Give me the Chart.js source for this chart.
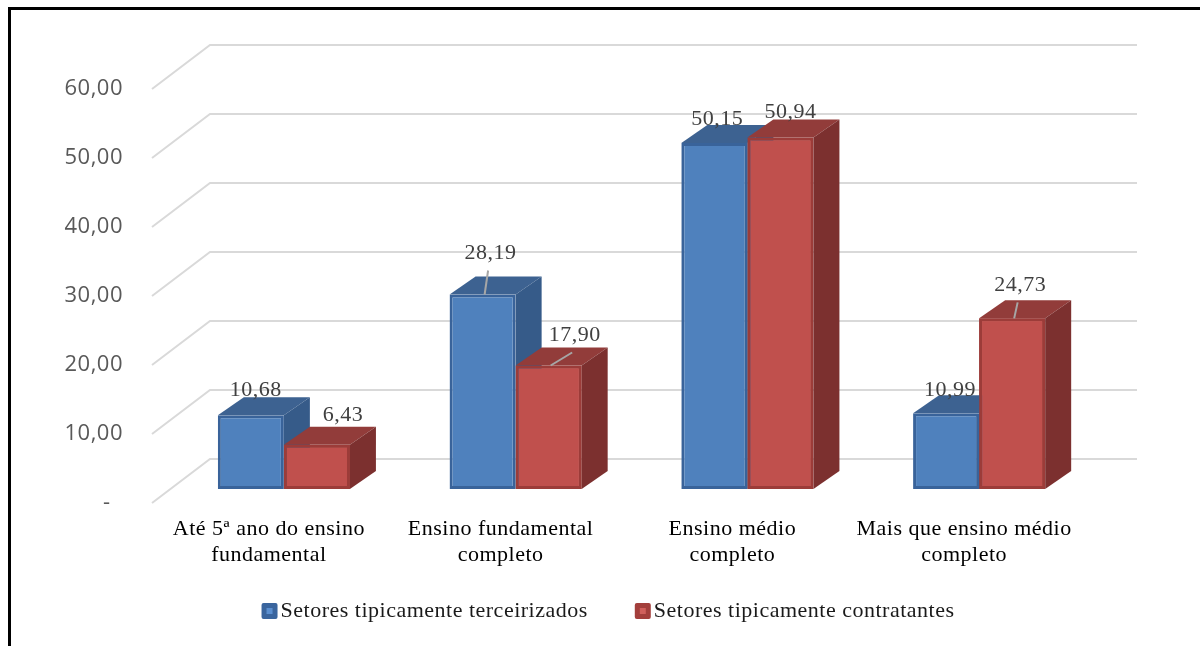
<!DOCTYPE html>
<html lang="pt">
<head>
<meta charset="utf-8">
<title>Escolaridade por tipo de setor</title>
<script src="https://cdn.jsdelivr.net/npm/chart.js@4.4.1/dist/chart.umd.min.js"></script>
<style>
  html, body { margin: 0; padding: 0; background: #ffffff; overflow: hidden; }
  #wrap { position: relative; width: 1200px; height: 646px; }
  #frame {
    position: absolute; left: 8px; top: 7px; width: 1200px; height: 700px;
    border-top: 3px solid #000; border-left: 3px solid #000; pointer-events: none;
  }
  canvas { position: absolute; left: 0; top: 0; }
</style>
</head>
<body>
<div id="wrap">
  <canvas id="chart" width="1200" height="646"></canvas>
  <div id="frame"></div>
</div>
<script>
// ---- data ----
const categories = [
  ['Até 5ª ano do ensino', 'fundamental'],
  ['Ensino fundamental', 'completo'],
  ['Ensino médio', 'completo'],
  ['Mais que ensino médio', 'completo']
];
const seriesNames = ['Setores tipicamente terceirizados', 'Setores tipicamente contratantes'];
const terceirizados = [10.68, 28.19, 50.15, 10.99];
const contratantes = [6.43, 17.90, 50.94, 24.73];
const yMin = 0, yMax = 60, yStep = 10;

// ---- label placement (offset from the top-centre of each bar front) ----
const labelShift = [
  [[5, -25], [8, -41], [3, -24], [4, -23]],
  [[26, -29], [26, -30], [10, -25], [8, -33]]
];
const leaderLine = [
  [false, true, false, false],
  [false, true, false, true]
];

// ---- styles ----
const SERIF = '"Liberation Serif", "Times New Roman", serif';
const SANS = '"Open Sans", "DejaVu Sans", sans-serif';
const faces = [
  { front: '#4f81bd', border: '#39639a', top: '#3d6291', side: '#365b89', legendDark: '#3a659e', legendLight: '#5b8fd0' },
  { front: '#c0504d', border: '#9c3c39', top: '#923c3a', side: '#7c302f', legendDark: '#a33f3c', legendLight: '#d0605c' }
];
const DEPTH = { dx: 26, dy: -18 };          // bar depth
const WALL = { dx: 42, dy: -30 };           // bar plane -> back wall
const FRONT = { dx: -16, dy: 14 };          // bar plane -> front edge of the floor/ticks

const fmt = v => v.toFixed(2).replace('.', ',');

const threeD = {
  id: 'threeD',
  beforeDraw(chart) {
    chart.ctx.letterSpacing = '0.5px';
  },
  beforeDatasetsDraw(chart) {
    const { ctx, chartArea, scales: { y } } = chart;
    const wallL = chartArea.left + WALL.dx;
    const wallR = chartArea.right + WALL.dx;
    ctx.save();
    ctx.strokeStyle = '#d9d9d9';
    ctx.lineWidth = 2;
    y.ticks.forEach(t => {
      const py = y.getPixelForValue(t.value);
      ctx.beginPath();
      ctx.moveTo(chartArea.left + FRONT.dx, py + FRONT.dy);
      ctx.lineTo(wallL, py + WALL.dy);
      ctx.lineTo(wallR, py + WALL.dy);
      ctx.stroke();
    });
    ctx.restore();
  },
  // Extrude the bars left to right: each series after the first repaints its
  // front faces so they cover the side faces of the series to its left.
  afterDatasetsDraw(chart) {
    const { ctx } = chart;
    ctx.save();
    chart.data.datasets.forEach((ds, di) => {
      const f = faces[di];
      const meta = chart.getDatasetMeta(di);
      meta.data.forEach(bar => {
        if (di > 0) bar.draw(ctx);
        const { x, y, base, width } = bar.getProps(['x', 'y', 'base', 'width'], true);
        const l = x - width / 2, r = x + width / 2;
        // top face
        ctx.fillStyle = f.top;
        ctx.beginPath();
        ctx.moveTo(l, y);
        ctx.lineTo(l + DEPTH.dx, y + DEPTH.dy);
        ctx.lineTo(r + DEPTH.dx, y + DEPTH.dy);
        ctx.lineTo(r, y);
        ctx.closePath();
        ctx.fill();
        // right side face
        ctx.fillStyle = f.side;
        ctx.beginPath();
        ctx.moveTo(r, y);
        ctx.lineTo(r + DEPTH.dx, y + DEPTH.dy);
        ctx.lineTo(r + DEPTH.dx, base + DEPTH.dy);
        ctx.lineTo(r, base);
        ctx.closePath();
        ctx.fill();
      });
    });
    ctx.restore();
  },
  afterDraw(chart) {
    const { ctx } = chart;
    ctx.save();
    ctx.letterSpacing = '0.5px';
    // value labels
    ctx.font = '22px ' + SERIF;
    ctx.textAlign = 'center';
    ctx.textBaseline = 'middle';
    chart.data.datasets.forEach((ds, di) => {
      chart.getDatasetMeta(di).data.forEach((bar, i) => {
        const { x, y } = bar.getProps(['x', 'y'], true);
        const [sx, sy] = labelShift[di][i];
        const lx = x + sx, ly = y + sy;
        if (leaderLine[di][i]) {
          ctx.strokeStyle = '#a6a6a6';
          ctx.lineWidth = 2;
          ctx.beginPath();
          ctx.moveTo(lx - 2.5, ly + 17);
          ctx.lineTo(x + 2, y);
          ctx.stroke();
        }
        ctx.fillStyle = '#404040';
        ctx.fillText(fmt(ds.data[i]), lx, ly);
      });
    });
    // legend
    ctx.font = '22px ' + SERIF;
    ctx.textAlign = 'left';
    ctx.textBaseline = 'alphabetic';
    const box = 16, gap = 3, spacing = 47, baseY = 617, centreX = 608;
    const widths = chart.data.datasets.map(ds => ctx.measureText(ds.label).width);
    const total = widths.reduce((a, w) => a + box + gap + w, 0) + spacing * (widths.length - 1);
    let cx = centreX - total / 2;
    chart.data.datasets.forEach((ds, di) => {
      const f = faces[di];
      const by = baseY - 14;
      ctx.fillStyle = f.legendDark;
      ctx.beginPath();
      ctx.roundRect(cx, by, box, box, 2);
      ctx.fill();
      ctx.fillStyle = f.legendLight;
      ctx.fillRect(cx + 5, by + 5, box - 10, box - 10);
      ctx.fillStyle = '#1a1a1a';
      ctx.fillText(ds.label, cx + box + gap, baseY);
      cx += box + gap + widths[di] + spacing;
    });
    ctx.restore();
  }
};

new Chart(document.getElementById('chart'), {
  type: 'bar',
  data: {
    labels: categories,
    datasets: [
      { label: seriesNames[0], data: terceirizados, backgroundColor: faces[0].front, borderColor: faces[0].border, borderWidth: 3, borderSkipped: false },
      { label: seriesNames[1], data: contratantes, backgroundColor: faces[1].front, borderColor: faces[1].border, borderWidth: 3, borderSkipped: false }
    ]
  },
  options: {
    responsive: false,
    animation: false,
    devicePixelRatio: 1,
    layout: { padding: { top: 75, right: 105, bottom: 0, left: 0 } },
    datasets: { bar: { barPercentage: 1, categoryPercentage: 0.57 } },
    plugins: {
      legend: { display: false },
      tooltip: { enabled: false }
    },
    scales: {
      x: {
        grid: { display: false, drawTicks: false },
        border: { display: false },
        ticks: {
          padding: 27, labelOffset: -15, maxRotation: 0, autoSkip: false,
          color: '#000000', font: { family: SERIF, size: 22, lineHeight: 1.2 }
        },
        afterFit: s => { s.height = 157; }
      },
      y: {
        min: yMin, max: yMax,
        grid: { display: false, drawTicks: false },
        border: { display: false },
        ticks: {
          stepSize: yStep, padding: 45, labelOffset: 14,
          color: '#595959', font: { family: SANS, size: 22 },
          callback: v => (v === 0 ? '-  ' : fmt(v))
        },
        afterFit: s => { s.width = 168; }
      }
    }
  },
  plugins: [threeD]
});
</script>
</body>
</html>
